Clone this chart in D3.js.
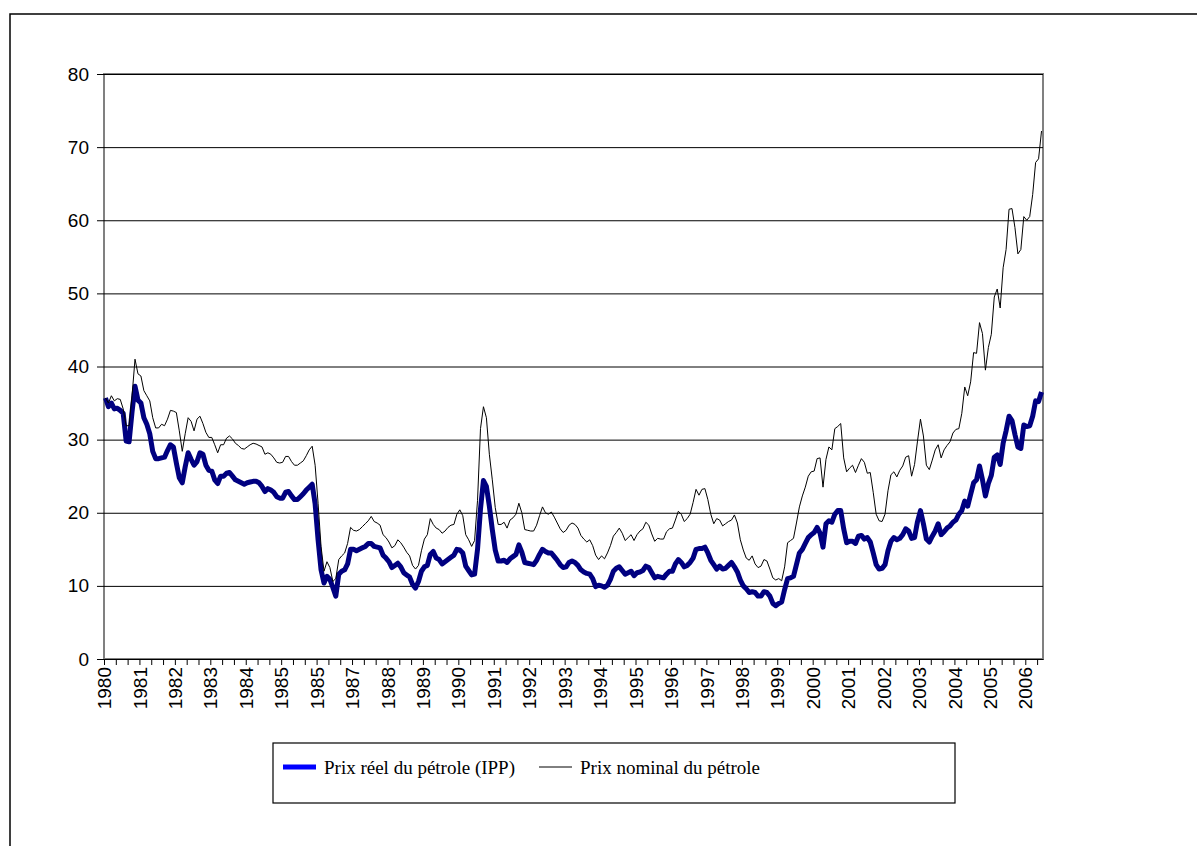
<!DOCTYPE html>
<html>
<head>
<meta charset="utf-8">
<script src="https://cdn.jsdelivr.net/npm/d3@7"></script>
<style>
  body { margin: 0; background: #fff; }
  svg { display: block; }
  .axis text { font-family: "Liberation Sans", Arial, sans-serif; font-size: 19px; fill: #000; }
  .legend text { font-family: "Liberation Serif", "Times New Roman", serif; font-size: 19px; fill: #000; }
</style>
</head>
<body>
<script>
// monthly values, Jan 1980 .. Jun 2006
var realPrice = [
    35.7, 34.5, 35.0, 34.2, 34.3, 34.0, 33.6, 29.8, 29.7, 33.8, 37.3, 35.4,  // 1980
    35.0, 33.0, 32.1, 30.8, 28.4, 27.4, 27.4, 27.5, 27.6, 28.5, 29.3, 29.0,  // 1981
    26.8, 24.8, 24.1, 26.3, 28.2, 27.3, 26.5, 27.0, 28.2, 28.0, 26.5, 25.8,  // 1982
    25.7, 24.5, 24.0, 25.0, 25.0, 25.4, 25.5, 25.0, 24.5, 24.3, 24.1, 23.9,  // 1983
    24.1, 24.2, 24.3, 24.3, 24.1, 23.6, 22.9, 23.3, 23.1, 22.8, 22.2, 22.0,  // 1984
    22.0, 22.8, 22.9, 22.3, 21.8, 21.8, 22.2, 22.6, 23.1, 23.5, 23.9, 21.2,  // 1985
    16.3, 12.2, 10.4, 11.3, 10.9, 9.8, 8.6, 11.6, 12.0, 12.2, 13.0, 15.0,    // 1986
    15.0, 14.8, 15.0, 15.2, 15.4, 15.8, 15.8, 15.4, 15.3, 15.2, 14.2, 13.8,  // 1987
    13.3, 12.5, 12.8, 13.1, 12.6, 11.8, 11.5, 11.2, 10.2, 9.7, 10.6, 12.0,   // 1988
    12.6, 12.8, 14.3, 14.7, 13.8, 13.6, 13.0, 13.3, 13.6, 13.9, 14.2, 15.0,  // 1989
    14.9, 14.5, 12.7, 12.1, 11.5, 11.6, 15.0, 20.5, 24.4, 23.6, 20.9, 17.7,  // 1990
    14.9, 13.4, 13.4, 13.5, 13.2, 13.7, 14.0, 14.3, 15.6, 14.6, 13.2, 13.1,  // 1991
    13.0, 12.9, 13.5, 14.3, 15.0, 14.7, 14.5, 14.5, 14.0, 13.5, 12.9, 12.5,  // 1992
    12.6, 13.2, 13.4, 13.2, 12.8, 12.2, 11.9, 11.7, 11.6, 11.0, 9.9, 10.1,   // 1993
    10.0, 9.8, 10.1, 10.9, 12.0, 12.4, 12.6, 12.1, 11.6, 11.8, 12.0, 11.4,   // 1994
    11.8, 11.9, 12.1, 12.7, 12.5, 11.8, 11.1, 11.3, 11.2, 11.1, 11.6, 12.0,  // 1995
    12.0, 13.0, 13.6, 13.2, 12.6, 12.8, 13.2, 13.8, 15.0, 15.1, 15.1, 15.3,  // 1996
    14.5, 13.5, 12.9, 12.3, 12.7, 12.3, 12.4, 12.8, 13.2, 12.6, 11.9, 10.8,  // 1997
    10.0, 9.6, 9.1, 9.2, 9.1, 8.6, 8.6, 9.2, 9.1, 8.6, 7.6, 7.3,             // 1998
    7.6, 7.8, 9.5, 11.0, 11.1, 11.3, 12.9, 14.5, 15.0, 15.8, 16.6, 17.0,     // 1999
    17.3, 18.0, 17.2, 15.3, 18.5, 18.9, 18.7, 19.8, 20.3, 20.3, 17.8, 15.9,  // 2000
    16.1, 16.1, 15.8, 16.8, 16.9, 16.4, 16.6, 16.0, 14.5, 12.9, 12.3, 12.4,  // 2001
    12.9, 14.8, 16.1, 16.6, 16.3, 16.5, 17.0, 17.8, 17.5, 16.5, 16.6, 18.8,  // 2002
    20.3, 18.5, 16.4, 16.0, 16.8, 17.5, 18.5, 17.0, 17.4, 17.9, 18.2, 18.7,  // 2003
    19.0, 19.8, 20.3, 21.6, 20.9, 22.5, 24.1, 24.5, 26.4, 24.5, 22.3, 24.0,  // 2004
    25.1, 27.6, 27.9, 26.6, 29.5, 31.2, 33.2, 32.6, 30.7, 29.0, 28.8, 32.0,  // 2005
    31.8, 31.9, 33.2, 35.3, 35.2, 36.5                                       // 2006
];

var nominalPrice = [
    35.7, 35.0, 36.0, 35.3, 35.6, 35.5, 34.2, 31.9, 31.9, 36.0, 41.0, 39.0,  // 1980
    38.7, 36.7, 36.0, 35.3, 33.0, 31.6, 31.6, 32.1, 31.9, 32.8, 34.0, 33.9,  // 1981
    33.7, 31.2, 28.4, 30.8, 33.0, 32.5, 31.2, 32.8, 33.2, 32.2, 31.0, 30.3,  // 1982
    30.3, 29.3, 28.2, 29.3, 29.3, 30.2, 30.5, 30.1, 29.5, 29.2, 28.8, 28.7,  // 1983
    29.0, 29.3, 29.5, 29.4, 29.2, 29.0, 28.0, 28.2, 28.0, 27.5, 26.9, 26.8,  // 1984
    26.9, 27.7, 27.7, 27.0, 26.5, 26.5, 26.8, 27.1, 27.8, 28.6, 29.1, 26.5,  // 1985
    21.3, 15.4, 12.0, 13.3, 12.5, 10.6, 11.0, 13.6, 14.1, 14.5, 15.8, 18.0,  // 1986
    17.6, 17.5, 17.7, 18.1, 18.5, 18.9, 19.5, 18.8, 18.6, 18.3, 17.0, 16.6,  // 1987
    16.0, 15.2, 15.5, 16.3, 15.9, 15.3, 14.6, 14.1, 12.8, 12.3, 12.8, 14.8,  // 1988
    16.4, 17.0, 19.2, 18.4, 17.9, 17.7, 17.2, 17.5, 18.0, 18.3, 18.4, 19.8,  // 1989
    20.4, 19.6, 17.0, 16.3, 15.4, 16.2, 21.7, 31.5, 34.5, 33.0, 28.0, 24.5,  // 1990
    20.7, 18.4, 18.4, 18.7, 17.9, 19.0, 19.3, 19.8, 21.3, 20.0, 17.7, 17.6,  // 1991
    17.5, 17.5, 18.3, 19.6, 20.8, 20.0, 19.8, 20.1, 19.4, 18.6, 17.8, 17.3,  // 1992
    17.6, 18.3, 18.6, 18.4, 17.9, 16.9, 16.4, 16.0, 16.3, 15.5, 14.2, 13.6,  // 1993
    14.1, 13.7, 14.5, 15.5, 16.8, 17.3, 17.9, 17.2, 16.2, 16.6, 17.0, 16.2,  // 1994
    17.0, 17.5, 17.8, 18.7, 18.3, 17.1, 16.1, 16.5, 16.4, 16.4, 17.4, 17.8,  // 1995
    17.9, 19.0, 20.2, 19.8, 18.8, 19.2, 19.8, 21.4, 23.2, 22.4, 23.2, 23.3,  // 1996
    21.8, 19.8, 18.5, 19.2, 19.0, 18.2, 18.5, 18.8, 19.0, 19.7, 18.6, 16.3,  // 1997
    14.9, 13.8, 13.5, 14.1, 13.0, 12.5, 12.7, 13.6, 13.4, 12.3, 11.1, 10.8,  // 1998
    11.0, 10.7, 12.6, 15.9, 16.2, 16.5, 18.6, 20.8, 22.3, 23.5, 25.0, 25.6,  // 1999
    25.7, 27.4, 27.5, 23.5, 27.3, 29.0, 28.6, 31.5, 31.8, 32.2, 27.5, 25.6,  // 2000
    26.1, 26.5, 25.5, 26.5, 27.4, 26.9, 25.4, 25.5, 22.8, 19.8, 18.9, 18.8,  // 2001
    19.8, 23.0, 25.2, 25.6, 24.9, 25.8, 26.4, 27.6, 27.8, 25.0, 26.6, 29.8,  // 2002
    32.8, 30.5, 26.5, 25.9, 27.2, 28.6, 29.3, 27.5, 28.6, 29.2, 29.7, 30.9,  // 2003
    31.4, 31.5, 33.6, 37.2, 36.0, 37.9, 41.9, 41.8, 46.0, 44.5, 39.5, 42.6,  // 2004
    44.4, 49.5, 50.6, 48.0, 53.5, 56.0, 61.5, 61.6, 59.0, 55.4, 56.0, 60.5,  // 2005
    60.0, 60.5, 63.5, 67.9, 68.4, 72.2                                       // 2006
];

// one label every 12 months, as printed (1985 twice, no 1986)
var yearLabels = ["1980", "1981", "1982", "1983", "1984", "1985", "1985", "1987",
    "1988", "1989", "1990", "1991", "1992", "1993", "1994", "1995", "1996",
    "1997", "1998", "1999", "2000", "2001", "2002", "2003", "2004", "2005", "2006"];

var yTicks = [0, 10, 20, 30, 40, 50, 60, 70, 80];

var seriesNames = ["Prix réel du pétrole (IPP)", "Prix nominal du pétrole"];

var W = 1197, H = 846;
var plot = { left: 104, right: 1043, top: 74, bottom: 659 };

var months = d3.range(realPrice.length);

var svg = d3.select("body").append("svg")
    .attr("width", W)
    .attr("height", H);

// chart area frame (runs past the window on the right and bottom)
svg.append("rect")
    .attr("x", 10).attr("y", 14)
    .attr("width", W + 20).attr("height", H + 20)
    .attr("fill", "none")
    .attr("stroke", "#000")
    .attr("stroke-width", 1.5);

var x = d3.scaleBand()
    .domain(months)
    .range([plot.left, plot.right]);

var xEdge = d3.scaleLinear()
    .domain([0, months.length])
    .range([plot.left, plot.right]);

var y = d3.scaleLinear()
    .domain([0, 80])
    .range([plot.bottom, plot.top]);

function cx(i) { return x(i) + x.bandwidth() / 2; }

// plot area border
svg.append("rect")
    .attr("x", plot.left).attr("y", plot.top)
    .attr("width", plot.right - plot.left)
    .attr("height", plot.bottom - plot.top)
    .attr("fill", "none")
    .attr("stroke", "#808080")
    .attr("stroke-width", 2);

// gridlines
svg.append("g")
    .attr("transform", "translate(" + plot.left + ",0)")
    .call(d3.axisLeft(y).tickValues(yTicks.slice(1)).tickSize(-(plot.right - plot.left)).tickFormat(""))
    .call(g => g.select(".domain").remove())
    .selectAll("line")
        .attr("stroke", "#000")
        .attr("stroke-width", 1);

// value axis
svg.append("g")
    .attr("class", "axis")
    .attr("transform", "translate(" + plot.left + ",0)")
    .call(d3.axisLeft(y).tickValues(yTicks).tickSize(7).tickPadding(8))
    .call(g => g.select(".domain").remove())
    .selectAll("text")
        .style("font-family", null)
        .style("font-size", null);

// category axis: tick every 4 months
svg.append("g")
    .attr("class", "axis")
    .attr("transform", "translate(0," + plot.bottom + ")")
    .call(d3.axisBottom(xEdge).tickValues(d3.range(0, months.length + 1, 4)).tickSize(6).tickFormat("").tickSizeOuter(0))
    .call(g => g.select(".domain").attr("stroke", "#000"));

// category labels, rotated
svg.append("g")
    .attr("class", "axis")
    .attr("transform", "translate(0," + plot.bottom + ")")
    .call(d3.axisBottom(x)
        .tickValues(yearLabels.map((d, k) => k * 12))
        .tickFormat((d) => yearLabels[d / 12])
        .tickSize(0))
    .call(g => g.select(".domain").remove())
    .selectAll("text")
        .attr("transform", "rotate(-90)")
        .attr("x", -8)
        .attr("y", -1)
        .attr("dy", "0.35em")
        .style("text-anchor", "end");

var line = d3.line()
    .x((d, i) => cx(i))
    .y((d) => y(d));

svg.append("path")
    .datum(realPrice)
    .attr("fill", "none")
    .attr("stroke", "#000080")
    .attr("stroke-width", 5)
    .attr("stroke-linejoin", "round")
    .attr("d", line);

svg.append("path")
    .datum(nominalPrice)
    .attr("fill", "none")
    .attr("stroke", "#000")
    .attr("stroke-width", 1)
    .attr("d", line);

// legend
var legend = svg.append("g").attr("class", "legend");

legend.append("rect")
    .attr("x", 273).attr("y", 743)
    .attr("width", 682).attr("height", 60)
    .attr("fill", "#fff")
    .attr("stroke", "#000")
    .attr("stroke-width", 1.2);

var legendItems = [
    { name: seriesNames[0], color: "#0000ff", width: 5, x: 283 },
    { name: seriesNames[1], color: "#000", width: 1, x: 539 }];

legendItems.forEach(function(it) {
    legend.append("line")
        .attr("x1", it.x).attr("x2", it.x + 33)
        .attr("y1", 767).attr("y2", 767)
        .attr("stroke", it.color)
        .attr("stroke-width", it.width);
    legend.append("text")
        .attr("x", it.x + 41)
        .attr("y", 774)
        .text(it.name);
});
</script>
</body>
</html>
